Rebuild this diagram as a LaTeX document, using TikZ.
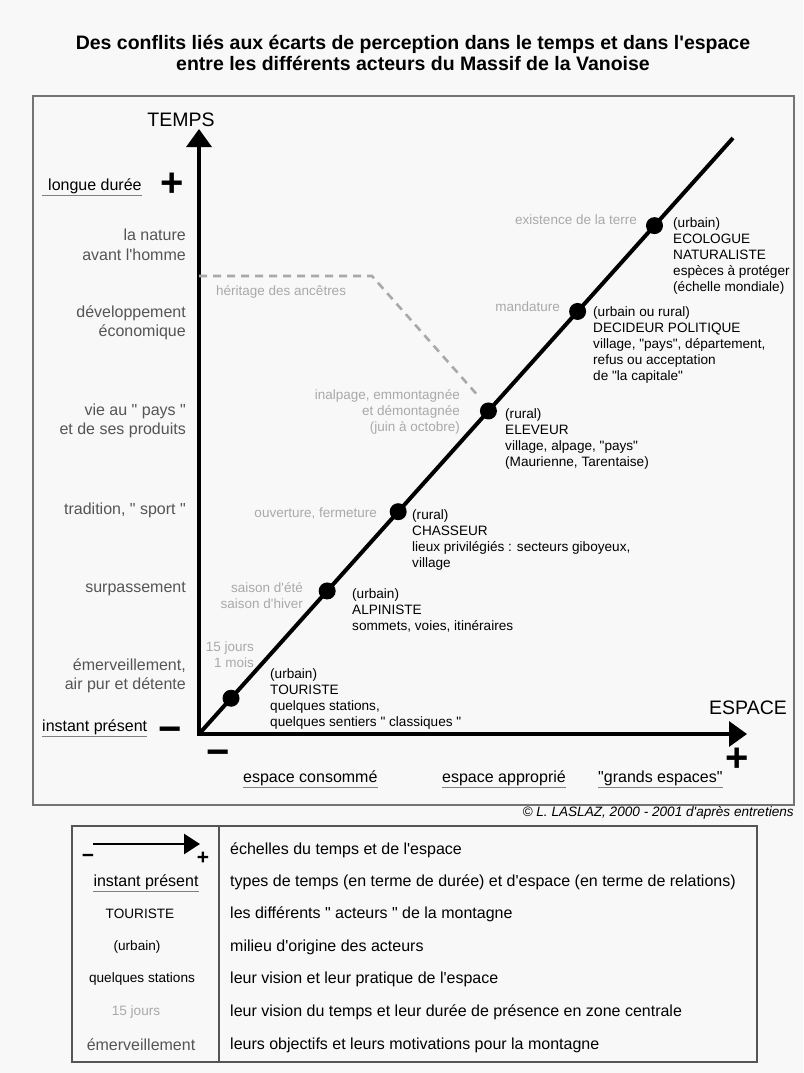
\documentclass[tikz,border=0pt]{standalone}
\usepackage{fontspec}
\setmainfont{Liberation Sans}[Ligatures=TeXOff]
\usetikzlibrary{arrows.meta}

\definecolor{pagegray}{HTML}{F8F8F8}
\definecolor{framegray}{HTML}{747474}
\definecolor{labelgray}{HTML}{555555}
\definecolor{timegray}{HTML}{A9A9A9}

\begin{document}
\begin{tikzpicture}[
    x=1pt, y=-1pt,
    heading/.style={
        align=center,
        inner sep=0pt,
        font=\fontsize{19.5}{21}\bfseries\selectfont
    },
    framebox/.style={draw=framegray, line width=1.5pt},
    axistitle/.style={inner sep=0pt, font=\fontsize{19.5}{20}\selectfont},
    axis/.style={line width=3.4pt, line cap=rect, -{Triangle[length=18pt,width=25pt]}},
    diag/.style={line width=4pt},
    dot/.style={circle, fill=black, inner sep=0pt, minimum size=17pt},
    actor/.style={
        anchor=north west,
        align=left,
        inner sep=0pt,
        font=\fontsize{13.6}{16}\selectfont
    },
    motive/.style={
        anchor=east,
        align=right,
        inner sep=0pt,
        text=labelgray,
        font=\fontsize{16}{19.5}\selectfont
    },
    duration/.style={
        anchor=east,
        align=right,
        inner sep=0pt,
        text=timegray,
        font=\fontsize{13.5}{16}\selectfont
    },
    scaletype/.style={anchor=west, inner sep=0pt, font=\fontsize{16}{18}\selectfont},
    underline/.style={draw=gray, line width=1.2pt},
    sign/.style={inner sep=0pt, text height=26pt, text depth=0pt, font=\fontsize{40}{40}\bfseries\selectfont},
    smallsign/.style={inner sep=0pt, text height=14pt, text depth=0pt, font=\fontsize{21}{21}\bfseries\selectfont},
    herit/.style={draw=timegray, line width=2.6pt, dash pattern=on 8pt off 6pt},
    legendbox/.style={draw=labelgray, line width=1.5pt},
    legarrow/.style={line width=2.7pt, -{Triangle[length=16pt,width=20pt]}},
    legkey/.style={inner sep=0pt, font=\fontsize{13.6}{16}\selectfont},
    legtext/.style={anchor=west, inner sep=0pt, font=\fontsize{16}{18}\selectfont}
]
\fill[pagegray] (0,0) rectangle (803,1073);
\useasboundingbox (0,0) rectangle (803,1073);

\node (title) [heading] at (413,53) {Des conflits liés aux écarts de perception dans le temps et dans l'espace\\entre les différents acteurs du Massif de la Vanoise};

% cadre du graphique
\draw [framebox] (33,96) rectangle (794,805);

% axes temps / espace
\coordinate (origin) at (199,734);
\coordinate (temptip) at (199,129);
\coordinate (esptip) at (747,734);
\coordinate (diagend) at (733,138);
\draw [axis] (origin) -- (temptip);
\draw [axis] (origin) -- (esptip);
\node (temps) [axistitle] at (181,120) {TEMPS};
\node (espace) [axistitle] at (748,708) {ESPACE};

% heritage des ancetres
\coordinate (heritstart) at (199,276);
\coordinate (heritbend) at (372,276);
\coordinate (heritend) at (480,398);
\draw [herit] (heritstart) -- (heritbend) -- (heritend);
\node (heritage) [duration, anchor=west] at (216,292) {héritage des ancêtres};

% acteurs sur la diagonale
\draw [diag] (origin) -- (diagend)
    node [dot, pos=0.060] (touriste) {}
    node [dot, pos=0.240] (alpiniste) {}
    node [dot, pos=0.373] (chasseur) {}
    node [dot, pos=0.542] (eleveur) {}
    node [dot, pos=0.709] (decideur) {}
    node [dot, pos=0.853] (ecologue) {};

\node (touristetxt) [actor] at (270,668) {(urbain)\\TOURISTE\\quelques stations,\\quelques sentiers " classiques "};
\node (alpinistetxt) [actor] at (352,588) {(urbain)\\ALPINISTE\\sommets, voies, itinéraires};
\node (chasseurtxt) [actor] at (412,509) {(rural)\\CHASSEUR\\lieux privilégiés : secteurs giboyeux,\\village};
\node (eleveurtxt) [actor] at (505,408) {(rural)\\ELEVEUR\\village, alpage, "pays"\\(Maurienne, Tarentaise)};
\node (decideurtxt) [actor] at (593,306) {(urbain ou rural)\\DECIDEUR POLITIQUE\\village, "pays", département,\\refus ou acceptation\\de "la capitale"};
\node (ecologuetxt) [actor] at (673,217) {(urbain)\\ECOLOGUE\\NATURALISTE\\espèces à protéger\\(échelle mondiale)};

% durees de presence
\node (quinze) [duration] at (254,655) {15 jours\\1 mois};
\node (saison) [duration] at (303,596) {saison d'été\\saison d'hiver};
\node (ouverture) [duration] at (377,513) {ouverture, fermeture};
\node (inalpage) [duration] at (460,412) {inalpage, emmontagnée\\et démontagnée\\(juin à octobre)};
\node (mandature) [duration] at (560,307) {mandature};
\node (existence) [duration] at (637,220) {existence de la terre};

% objectifs et motivations
\node (nature) [motive] at (186,245) {la nature\\avant l'homme};
\node (developpement) [motive] at (186,323) {développement\\économique};
\node (pays) [motive] at (186,421) {vie au " pays "\\et de ses produits};
\node (tradition) [motive] at (186,510) {tradition, " sport "};
\node (surpassement) [motive] at (186,589) {surpassement};
\node (emerveillement) [motive] at (186,676) {émerveillement,\\air pur et détente};

% types de temps et d'espace
\node (longue) [scaletype] at (48,186) {longue durée};
\node (instant) [scaletype] at (42,727) {instant présent};
\node (consomme) [scaletype] at (243,778) {espace consommé};
\node (approprie) [scaletype] at (442,778) {espace approprié};
\node (grands) [scaletype] at (598,778) {"grands espaces"};
\draw [underline] ([xshift=-6pt,yshift=-1.5pt]longue.south west) -- ([yshift=-1.5pt]longue.south east);
\draw [underline] ([yshift=-1.5pt]instant.south west) -- ([yshift=-1.5pt]instant.south east);
\draw [underline] ([yshift=-1.5pt]consomme.south west) -- ([yshift=-1.5pt]consomme.south east);
\draw [underline] ([yshift=-1.5pt]approprie.south west) -- ([yshift=-1.5pt]approprie.south east);
\draw [underline] ([yshift=-1.5pt]grands.south west) -- ([yshift=-1.5pt]grands.south east);

\node (plustemps) [sign] at (172,183) {+};
\node (moinstemps) [sign] at (170,729) {−};
\node (moinsespace) [sign] at (218,752) {−};
\node (plusespace) [sign] at (737,758) {+};

\node (credit) [anchor=east, inner sep=0pt, font=\fontsize{13.6}{16}\itshape\selectfont] at (794,813) {© L. LASLAZ, 2000 - 2001 d'après entretiens};

% legende
\draw [legendbox] (72,826) rectangle (757,1062);
\draw [legendbox] (219,826) -- (219,1062);
\coordinate (legstart) at (93,844);
\coordinate (legend) at (200,844);
\draw [legarrow] (legstart) -- (legend);
\node (legmoins) [smallsign] at (88,855) {−};
\node (legplus) [smallsign] at (203,857) {+};

\node (keyinstant) [legkey, font=\fontsize{16}{18}\selectfont] at (146,882) {instant présent};
\draw [underline] ([yshift=-1.5pt]keyinstant.south west) -- ([yshift=-1.5pt]keyinstant.south east);
\node (keyacteur) [legkey] at (140,914) {TOURISTE};
\node (keymilieu) [legkey] at (137,947) {(urbain)};
\node (keyespace) [legkey] at (142,979) {quelques stations};
\node (keytemps) [legkey, text=timegray] at (136,1012) {15 jours};
\node (keyobjectif) [legkey, text=labelgray, font=\fontsize{16}{18}\selectfont] at (141,1045) {émerveillement};

\node (descechelle) [legtext] at (230,850) {échelles du temps et de l'espace};
\node (desctype) [legtext] at (230,882) {types de temps (en terme de durée) et d'espace (en terme de relations)};
\node (descacteur) [legtext] at (230,914) {les différents " acteurs " de la montagne};
\node (descmilieu) [legtext] at (230,947) {milieu d'origine des acteurs};
\node (descespace) [legtext] at (230,979) {leur vision et leur pratique de l'espace};
\node (desctemps) [legtext] at (230,1012) {leur vision du temps et leur durée de présence en zone centrale};
\node (descobjectif) [legtext] at (230,1045) {leurs objectifs et leurs motivations pour la montagne};
\end{tikzpicture}
\end{document}
